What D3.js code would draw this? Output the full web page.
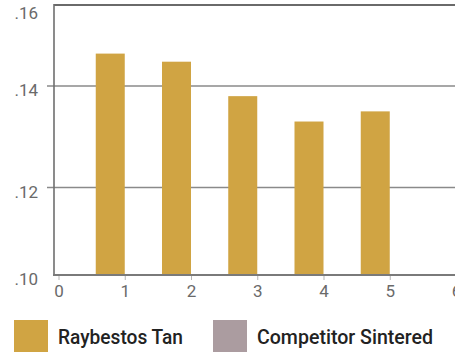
<!DOCTYPE html>
<html>
<head>
<meta charset="utf-8">
<script src="https://cdn.jsdelivr.net/npm/d3@7/dist/d3.min.js"></script>
<style>
  body { margin: 0; background: #fff; }
  svg { display: block; }
</style>
</head>
<body>
<div id="chart"></div>
<script>
'use strict';

// data
var categories = [1, 2, 3, 4, 5];
var raybestosTan = [0.148, 0.146, 0.138, 0.133, 0.135];
var competitorSintered = [null, null, null, null, null];
var yTicks = [0.10, 0.12, 0.14, 0.16];
var yTickLabels = ['.10', '.12', '.14', '.16'];
var xTicks = [0, 1, 2, 3, 4, 5, 6];
var seriesNames = ['Raybestos Tan', 'Competitor Sintered'];
var seriesColors = ['#d0a443', '#ab9ca0'];

var width = 455, height = 352;
var plotLeft = 54, plotTop = 5, plotBottom = 275;

var svg = d3.select('#chart').append('svg')
  .attr('width', width).attr('height', height);

var x = d3.scaleLinear().domain([0, 6]).range([58.5, 456]);
// the printed scale is not even, so map tick by tick
var y = d3.scaleLinear().domain(yTicks).range([275, 187.5, 86, 5]);

var font = 'Roboto, "Liberation Sans", sans-serif';

// grid lines
svg.selectAll('line.grid')
  .data([0.12, 0.14]).enter().append('line')
  .attr('class', 'grid')
  .attr('x1', 47).attr('x2', width)
  .attr('y1', function(d) { return y(d); })
  .attr('y2', function(d) { return y(d); })
  .style('stroke', '#8a8a8a').style('stroke-width', 1.5);

// top frame
svg.append('line')
  .attr('x1', plotLeft).attr('x2', width)
  .attr('y1', y(0.16)).attr('y2', y(0.16))
  .style('stroke', '#6a6a6a').style('stroke-width', 2);

// bars
var bw = 29;
svg.selectAll('rect.ray')
  .data(categories).enter().append('rect')
  .attr('class', 'ray')
  .attr('x', function(d) { return x(d) - bw; })
  .attr('y', function(d, i) { return y(raybestosTan[i]); })
  .attr('width', bw)
  .attr('height', function(d, i) { return y(0.10) - y(raybestosTan[i]); })
  .style('fill', seriesColors[0]);

svg.selectAll('rect.comp')
  .data(categories.filter(function(d, i) { return competitorSintered[i] != null; }))
  .enter().append('rect')
  .attr('class', 'comp')
  .attr('x', function(d) { return x(d); })
  .attr('y', function(d) { return y(competitorSintered[d - 1]); })
  .attr('width', bw)
  .attr('height', function(d) { return y(0.10) - y(competitorSintered[d - 1]); })
  .style('fill', seriesColors[1]);

// left axis line
svg.append('line')
  .attr('x1', plotLeft).attr('x2', plotLeft)
  .attr('y1', plotTop - 1).attr('y2', plotBottom)
  .style('stroke', '#6f6f6f').style('stroke-width', 1.6);

// bottom axis
var xAxis = d3.axisBottom(x).tickValues(xTicks).tickSize(5).tickPadding(5)
  .tickFormat(d3.format('d'));
var gx = svg.append('g').attr('transform', 'translate(0,' + plotBottom + ')').call(xAxis);
gx.select('.domain').remove();
gx.selectAll('.tick line').style('stroke', '#b5b5b5');
gx.selectAll('.tick text')
  .style('font-family', font).style('font-size', '17px').style('fill', '#6a6a6a');
svg.append('line')
  .attr('x1', plotLeft - 1).attr('x2', width)
  .attr('y1', plotBottom).attr('y2', plotBottom)
  .style('stroke', '#7a7a7a').style('stroke-width', 2);

// y labels
svg.selectAll('text.ylab')
  .data(yTicks).enter().append('text')
  .attr('class', 'ylab')
  .attr('x', 38)
  .attr('y', function(d, i) { return y(d) + (i == 3 ? 14 : 10); })
  .attr('text-anchor', 'end')
  .style('font-family', font).style('font-size', '17px').style('fill', '#6a6a6a')
  .text(function(d, i) { return yTickLabels[i]; });

// legend
var legX = [14, 213];
var legW = [125, 176];
var leg = svg.selectAll('g.leg')
  .data(seriesNames).enter().append('g')
  .attr('class', 'leg')
  .attr('transform', function(d, i) { return 'translate(' + legX[i] + ',320)'; });
leg.append('rect')
  .attr('width', 34).attr('height', 32)
  .style('fill', function(d, i) { return seriesColors[i]; });
leg.append('text')
  .attr('x', 44).attr('y', 24)
  .attr('textLength', function(d, i) { return legW[i]; })
  .attr('lengthAdjust', 'spacingAndGlyphs')
  .style('font-family', font).style('font-size', '20px').style('font-weight', 500)
  .style('fill', '#222')
  .text(function(d) { return d; });
</script>
</body>
</html>
